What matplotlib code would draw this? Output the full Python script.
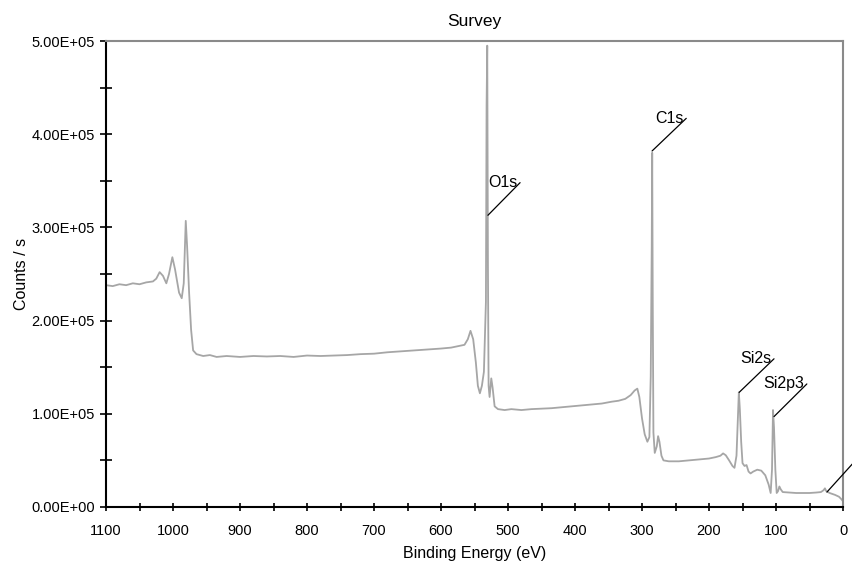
import matplotlib
matplotlib.use("Agg")
import matplotlib.pyplot as plt
from matplotlib.ticker import MultipleLocator, FuncFormatter

plt.rcParams['font.family'] = ['Liberation Sans', 'DejaVu Sans']

# spectrum (binding energy eV, counts / s)
energy = [1100, 1090, 1080, 1070, 1060, 1050, 1040, 1030, 1025, 1020, 1015, 1010,
          1006, 1001, 997, 991, 987, 984, 981, 979, 976, 973, 970, 965, 955, 945,
          935, 920, 900, 880, 860, 840, 820, 800, 780, 760, 740, 720, 700, 680,
          660, 640, 620, 600, 585, 572, 565, 560, 556, 552, 548, 545, 542, 539,
          536, 533, 532, 531, 530, 529, 527.5, 525, 523, 520, 515, 505, 495, 480,
          465, 450, 435, 420, 405, 390, 375, 360, 345, 335, 325, 317, 311, 307,
          304, 300, 296, 292, 289, 287, 285.5, 284.8, 284, 283, 281, 278, 276,
          274, 271, 268, 260, 245, 230, 215, 200, 190, 183, 179, 175, 170, 165,
          162, 159, 157, 155.5, 154, 152, 150, 147, 144, 141, 138, 134, 128, 122,
          116, 111, 108, 106, 104.5, 103, 101, 99, 97, 95, 93, 90, 80, 70, 60, 50,
          40, 33, 29, 27, 25, 20, 12, 6, 2, 0]
counts = [2.38, 2.37, 2.39, 2.38, 2.40, 2.39, 2.41, 2.42, 2.45, 2.52, 2.48, 2.40,
          2.50, 2.68, 2.55, 2.30, 2.24, 2.40, 3.07, 2.80, 2.30, 1.90, 1.68, 1.64,
          1.62, 1.63, 1.61, 1.62, 1.61, 1.62, 1.615, 1.62, 1.61, 1.625, 1.62,
          1.625, 1.63, 1.64, 1.645, 1.66, 1.67, 1.68, 1.69, 1.70, 1.71, 1.73,
          1.74, 1.80, 1.89, 1.80, 1.55, 1.30, 1.22, 1.30, 1.45, 2.2, 4.3, 4.95,
          2.6, 1.3, 1.18, 1.38, 1.28, 1.08, 1.05, 1.04, 1.05, 1.04, 1.05, 1.055,
          1.06, 1.07, 1.08, 1.09, 1.10, 1.11, 1.13, 1.14, 1.16, 1.20, 1.25, 1.27,
          1.18, 0.95, 0.78, 0.70, 0.75, 1.4, 2.8, 3.80, 2.2, 0.8, 0.58, 0.65,
          0.76, 0.70, 0.55, 0.50, 0.49, 0.49, 0.50, 0.51, 0.52, 0.535, 0.55,
          0.575, 0.555, 0.50, 0.44, 0.42, 0.55, 0.95, 1.23, 1.05, 0.70, 0.47,
          0.44, 0.45, 0.38, 0.36, 0.38, 0.40, 0.39, 0.34, 0.24, 0.15, 0.40, 1.04,
          0.85, 0.40, 0.15, 0.17, 0.22, 0.19, 0.16, 0.155, 0.15, 0.15, 0.15,
          0.155, 0.16, 0.18, 0.20, 0.17, 0.15, 0.13, 0.11, 0.08, 0.06]
counts = [c * 1e5 for c in counts]

# peak labels: (label, point on curve, end of leader line)
peak_labels = ["O1s", "C1s", "Si2s", "Si2p3", ""]
peak_at = [(530, 3.13e5), (285, 3.82e5), (155, 1.23e5), (103, 0.97e5), (24, 0.16e5)]
label_at = [(482, 3.48e5), (234, 4.17e5), (103, 1.59e5), (54, 1.32e5), (-15, 0.47e5)]

fig = plt.figure(figsize=(8.53, 5.64), dpi=100)
ax = fig.add_axes([0.1243, 0.1011, 0.864, 0.8262])

ax.plot(energy, counts, color="#a6a6a6", lw=1.3)

for lab, p, t in zip(peak_labels, peak_at, label_at):
    ax.annotate("", xy=p, xytext=t, annotation_clip=False,
                arrowprops=dict(arrowstyle="-", color="black", lw=0.9,
                                shrinkA=0, shrinkB=0))
    if lab:
        ax.text(t[0] + 4, t[1], lab, ha="right", va="center", fontsize=11.5)

ax.set_xlim(1100, 0)
ax.set_ylim(0, 5e5)
ax.xaxis.set_major_locator(MultipleLocator(100))
ax.xaxis.set_minor_locator(MultipleLocator(50))
ax.yaxis.set_major_locator(MultipleLocator(1e5))
ax.yaxis.set_minor_locator(MultipleLocator(5e4))
ax.yaxis.set_major_formatter(FuncFormatter(lambda v, pos: f"{v:.2E}"))
ax.xaxis.set_major_formatter(FuncFormatter(lambda v, pos: f"{v:.0f}"))

ax.tick_params(which="both", direction="inout", width=1.2, colors="black",
               labelsize=10.5)
ax.tick_params(axis="x", which="both", length=6, pad=9)
ax.tick_params(axis="y", which="both", length=8, pad=4)

for side in ["left", "bottom"]:
    ax.spines[side].set_color("black")
    ax.spines[side].set_linewidth(1.5)
for side in ["top", "right"]:
    ax.spines[side].set_color("#8a8a8a")
    ax.spines[side].set_linewidth(1.5)

ax.set_title("Survey", fontsize=12.5, pad=11)
ax.set_xlabel("Binding Energy (eV)", fontsize=11.5, labelpad=6)
ax.set_ylabel("Counts / s", fontsize=11.5, labelpad=2)

fig.savefig("out.png", dpi=100)
